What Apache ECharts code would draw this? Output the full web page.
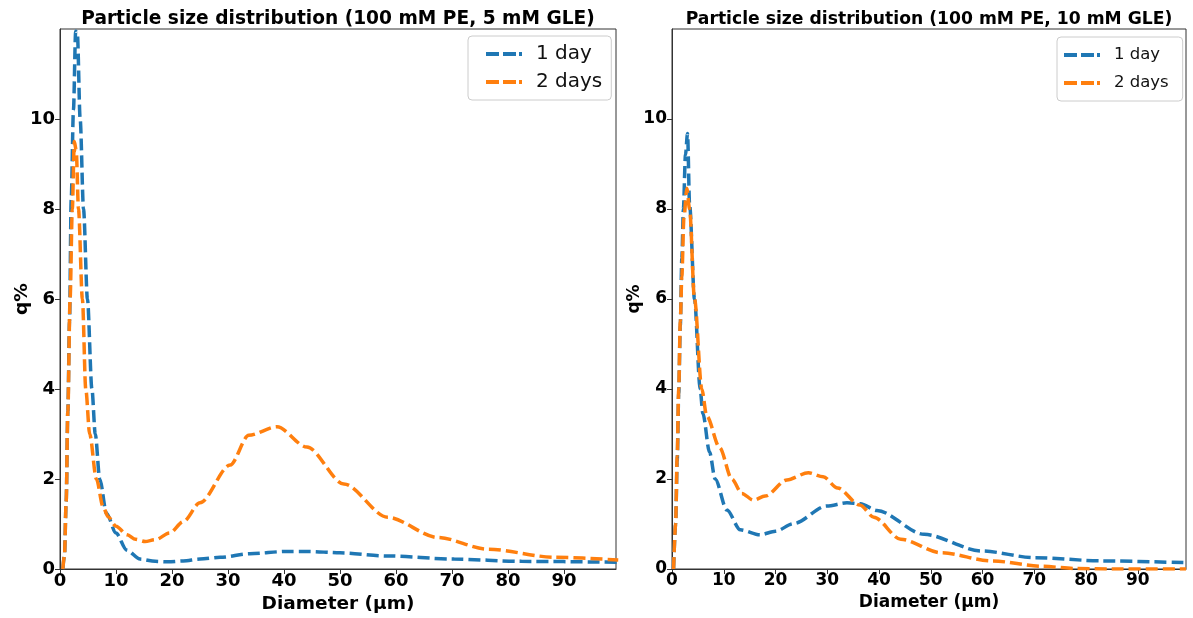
<!DOCTYPE html>
<html>
<head>
<meta charset="utf-8">
<script src="https://cdn.jsdelivr.net/npm/echarts@6/dist/echarts.min.js"></script>
<style>html,body{margin:0;padding:0;background:#fff;}#c{width:1193px;height:618px;}</style>
</head>
<body>
<div id="c"></div>
<script>
// Left panel: 100 mM PE, 5 mM GLE
const leftX1 = [0.5,0.8,1.1,1.4,1.7,2.0,2.4,2.8,3.1,3.6,4.2,4.9,5.7,6.3,7.1,8.3,10,11.9,14.3,17,19.3,22,25,28.6,33.9,40.5,44.3,50,58.5,70.4,82.4,99.7];
const leftY1 = [0,0.3,1.5,3.5,5.5,8.2,10.2,11.95,11.9,10,8,6,4,3,2,1.24,0.8,0.42,0.22,0.17,0.16,0.18,0.22,0.26,0.34,0.39,0.39,0.36,0.29,0.22,0.17,0.15];
const leftX2 = [0.5,0.8,1.1,1.4,1.8,2.2,2.55,2.9,3.3,4.0,4.6,5.3,6.5,7.7,8.6,10,12,13.5,15.2,17,19.6,22,25,30.4,33.7,38.75,44.1,50.7,58.5,67.5,76.4,88.4,99.7];
const leftY2 = [0,0.3,1.5,3.5,6,8,9.5,9.3,8,6,4,3,2,1.38,1.16,0.95,0.76,0.66,0.61,0.65,0.8,1.05,1.47,2.31,2.97,3.16,2.71,1.89,1.15,0.70,0.44,0.26,0.2];
// Right panel: 100 mM PE, 10 mM GLE
const rightX1 = [0.3,0.7,1.0,1.3,1.6,1.9,2.2,2.6,3.0,3.4,4.35,5.44,5.96,7.25,8.34,10.6,13.2,17.0,20,23.5,29.9,33.8,36.4,39.6,48.7,59.8,70.2,83.2,99.3];
const rightY1 = [0,1,2.4,3.9,5.4,6.9,8,9.2,9.68,8.1,6,4,3.46,2.6,2.0,1.31,0.87,0.76,0.84,1.01,1.40,1.47,1.45,1.30,0.77,0.40,0.25,0.18,0.14];
const rightX2 = [0.3,0.7,1.0,1.3,1.6,1.9,2.3,2.87,3.4,4.35,5.76,6.7,9.2,11.56,13.5,15.7,18,22.2,26.35,29.2,32,36.3,39,44.2,52,61.8,71.5,78,85,99.3];
const rightY2 = [0,1,2.5,4,5.5,6.5,7.8,8.46,8,6,4,3.4,2.7,2.0,1.68,1.53,1.62,1.98,2.14,2.05,1.8,1.42,1.15,0.66,0.36,0.18,0.06,0.01,0,0];

const seriesNames = ['1 day', '2 days'];
const titles = ['Particle size distribution (100 mM PE, 5 mM GLE)', 'Particle size distribution (100 mM PE, 10 mM GLE)'];
const xTicks = [0,10,20,30,40,50,60,70,80,90];
const yTicks = [0,2,4,6,8,10];

const pairs = (xs, ys) => xs.map((x, i) => [x, ys[i]]);
const FONT = 'DejaVu Sans';
const BLUE = '#1f77b4', ORANGE = '#ff7f0e';
// dashed legend sample (36 px) followed by empty room before the text
const dashIcon = 'path://M0,0H13V4H0Z M17,0H30V4H17Z M33,0H36V4H33Z M44.9,1.99H45V2.01H44.9Z';

function xAxis(gi, fs, nfs) {
  return {
    type: 'value', gridIndex: gi, min: 0, max: 99.3, interval: 10,
    name: 'Diameter (µm)', nameLocation: 'middle', nameGap: 24,
    nameTextStyle: {fontFamily: FONT, fontWeight: 'bold', fontSize: nfs, color: '#000'},
    axisLine: {show: true, lineStyle: {color: '#333', width: 1}},
    axisTick: {show: true, length: 5, lineStyle: {color: '#333'}},
    axisLabel: {fontFamily: FONT, fontWeight: 'bold', fontSize: fs, color: '#000', margin: 3,
      showMaxLabel: false, formatter: v => xTicks.includes(v) ? String(v) : ''},
    splitLine: {show: false}
  };
}
function yAxis(gi, fs, nfs, gap) {
  return {
    type: 'value', gridIndex: gi, min: 0, max: 12, interval: 2,
    name: 'q%', nameLocation: 'middle', nameGap: gap, nameMoveOverlap: false,
    nameTextStyle: {fontFamily: FONT, fontWeight: 'bold', fontSize: nfs, color: '#000'},
    axisLine: {show: true, lineStyle: {color: '#333', width: 1}},
    axisTick: {show: true, length: 5, lineStyle: {color: '#333'}},
    axisLabel: {fontFamily: FONT, fontWeight: 'bold', fontSize: fs, color: '#000', margin: 5,
      showMaxLabel: false, formatter: v => yTicks.includes(v) ? String(v) : ''},
    splitLine: {show: false}
  };
}
function line(name, gi, data, color) {
  return {
    name, type: 'line', xAxisIndex: gi, yAxisIndex: gi, data,
    showSymbol: false, symbol: 'none', smooth: 0.3, smoothMonotone: 'x',
    lineStyle: {color, width: 3.5, type: [12, 5]}, itemStyle: {color},
    legendIcon: dashIcon, animation: false
  };
}
function legend(left, top, fs, padL, padR) {
  return {
    orient: 'vertical', left, top, data: seriesNames,
    icon: dashIcon, itemWidth: 45, itemHeight: 4, itemGap: 8,
    padding: [8, padR, 8, padL], backgroundColor: '#fff', borderColor: '#cccccc', borderWidth: 1, borderRadius: 4,
    textStyle: {fontFamily: FONT, fontSize: fs, color: '#111', lineHeight: 20},
    selectedMode: false
  };
}

const chart = echarts.init(document.getElementById('c'), null, {renderer: 'canvas'});
chart.setOption({
  animation: false,
  backgroundColor: '#fff',
  title: [
    {text: titles[0], left: 338, top: 10, textAlign: 'center', padding: 0,
     textStyle: {fontFamily: FONT, fontWeight: 'bold', fontSize: 18.6, color: '#000'}},
    {text: titles[1], left: 929, top: 11, textAlign: 'center', padding: 0,
     textStyle: {fontFamily: FONT, fontWeight: 'bold', fontSize: 17.2, color: '#000'}}
  ],
  legend: [legend(468, 36, 20, 18, 9), legend(1057, 37, 16.5, 7, 14)],
  grid: [
    {left: 60, right: 577, top: 29, bottom: 49, outerBoundsMode: 'none', containLabel: false,
     show: true, borderColor: '#333', borderWidth: 1, backgroundColor: 'transparent'},
    {left: 672, right: 7, top: 29, bottom: 49, outerBoundsMode: 'none', containLabel: false,
     show: true, borderColor: '#333', borderWidth: 1, backgroundColor: 'transparent'}
  ],
  xAxis: [xAxis(0, 18, 18.5), xAxis(1, 17, 17)],
  yAxis: [yAxis(0, 18, 18.5, 28), yAxis(1, 17, 17, 29)],
  series: [
    line(seriesNames[0], 0, pairs(leftX1, leftY1), BLUE),
    line(seriesNames[1], 0, pairs(leftX2, leftY2), ORANGE),
    line(seriesNames[0], 1, pairs(rightX1, rightY1), BLUE),
    line(seriesNames[1], 1, pairs(rightX2, rightY2), ORANGE)
  ]
});
</script>
</body>
</html>
